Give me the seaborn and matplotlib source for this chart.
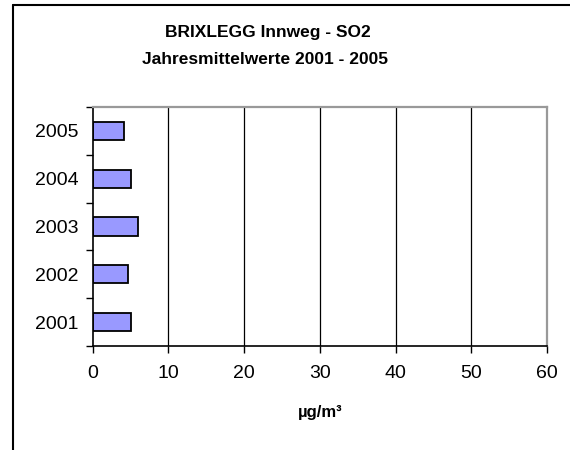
import matplotlib
matplotlib.use("Agg")
import matplotlib.pyplot as plt
import seaborn as sns
import pandas as pd
from matplotlib.lines import Line2D

years = ["2005", "2004", "2003", "2002", "2001"]
so2_mean = [4.2, 5.0, 6.0, 4.6, 5.0]
x_ticks = [0, 10, 20, 30, 40, 50, 60]

df = pd.DataFrame({"Jahr": years, "SO2": so2_mean})

sns.set_style("white")
plt.rcParams["font.family"] = ["Liberation Sans", "DejaVu Sans"]
plt.rcParams["text.color"] = "black"
plt.rcParams["xtick.color"] = "black"
plt.rcParams["ytick.color"] = "black"

fig = plt.figure(figsize=(5.7, 4.5), dpi=100)
ax = fig.add_axes([0.1626, 0.2311, 0.7970, 0.5311])

sns.barplot(
    data=df, x="SO2", y="Jahr", order=years, orient="h",
    color="#9999FF", saturation=1, width=0.38,
    edgecolor="black", linewidth=1.3, ax=ax,
)

ax.set_xlim(0, 60)
ax.set_ylim(4.5, -0.5)
ax.set_xticks(x_ticks)
ax.set_xticklabels([str(t) for t in x_ticks], fontsize=14)
for t in x_ticks[1:-1]:
    ax.axvline(t, color="black", linewidth=0.9, zorder=0)

# category labels without ticks, boundary ticks as minor ticks
ax.tick_params(axis="y", which="major", left=True, length=0, labelsize=14,
               pad=10, labelcolor="black")
ax.set_yticks([i - 0.5 for i in range(6)], minor=True)
ax.tick_params(axis="y", which="minor", left=True, length=5, width=1,
               color="black", direction="out")
ax.tick_params(axis="x", which="major", bottom=True, length=5, width=1,
               color="black", direction="out", pad=9, labelcolor="black")
ax.set_xlabel("")
ax.set_ylabel("")

for side in ["left", "bottom"]:
    ax.spines[side].set_color("black")
    ax.spines[side].set_linewidth(1.2)
for side in ["top", "right"]:
    ax.spines[side].set_color("#999999")
    ax.spines[side].set_linewidth(1.6)
    ax.spines[side].set_visible(True)

fig.text(0.470, 1 - 32 / 450, "BRIXLEGG Innweg - SO2", ha="center",
         va="center", fontsize=12.5, fontweight="bold", color="black")
fig.text(0.465, 1 - 60 / 450, "Jahresmittelwerte 2001 - 2005", ha="center",
         va="center", fontsize=12.5, fontweight="bold", color="black")
fig.text(0.5614, 1 - 413 / 450, "µg/m³", ha="center", va="center",
         fontsize=12, fontweight="bold", color="black")

# outer chart frame (left and top only visible)
fx = 13 / 570
fy = 1 - 5 / 450
fig.add_artist(Line2D([fx, fx], [0, fy], color="black", linewidth=1.5))
fig.add_artist(Line2D([fx, 1], [fy, fy], color="black", linewidth=1.5))

fig.savefig("out.png", dpi=100)
plt.close(fig)
